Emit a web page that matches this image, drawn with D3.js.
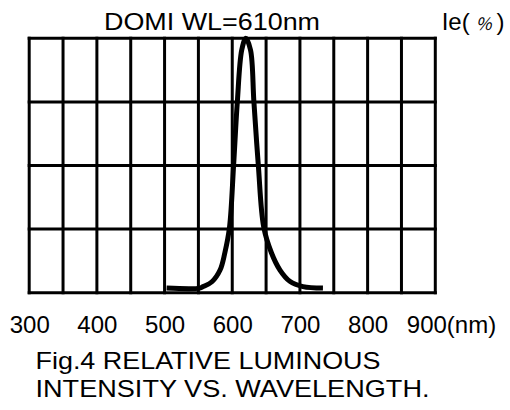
<!DOCTYPE html>
<html>
<head>
<meta charset="utf-8">
<script src="https://cdn.jsdelivr.net/npm/d3@7"></script>
<style>
  body { margin: 0; background: #fff; }
  text { font-family: "Liberation Sans", Arial, sans-serif; fill: #000; }
</style>
</head>
<body>
<div id="chart"></div>
<script>
const WIDTH = 510;
const HEIGHT = 410;

// wavelength (nm) and relative intensity (%)
const wavelengths = [503, 552, 557, 570, 582, 589, 596, 602, 607.5, 614, 620,
  627, 632, 638.5, 646.5, 658, 670.5, 685, 704.5, 734];
const intensities = [1.8, 1.8, 2.4, 4.3, 8.9, 15.6, 25.8, 50.2, 75, 95.4, 100,
  95.4, 75, 50.2, 25.8, 15.6, 8.9, 4.5, 2.4, 1.8];

const xGridValues = d3.range(300, 901, 50);
const yGridValues = [0, 25, 50, 75, 100];
const xTickValues = [300, 400, 500, 600, 700, 800, 900];

const titleText = "DOMI WL=610nm";
const captionLines = ["Fig.4 RELATIVE LUMINOUS", "INTENSITY VS. WAVELENGTH."];

const svg = d3.select("#chart")
  .append("svg")
  .attr("width", WIDTH)
  .attr("height", HEIGHT);

const x = d3.scaleLinear().domain([300, 900]).range([29.2, 435.3]);
const y = d3.scaleLinear().domain([0, 100]).range([292.7, 38.3]);

// grid
svg.append("g")
  .selectAll("line")
  .data(xGridValues)
  .enter()
  .append("line")
  .attr("x1", d => x(d))
  .attr("x2", d => x(d))
  .attr("y1", y(0) + 1.5)
  .attr("y2", y(100) - 1.5)
  .attr("stroke", "#000")
  .attr("stroke-width", 3);

svg.append("g")
  .selectAll("line")
  .data(yGridValues)
  .enter()
  .append("line")
  .attr("x1", x(300) - 1.5)
  .attr("x2", x(900) + 1.5)
  .attr("y1", d => y(d))
  .attr("y2", d => y(d))
  .attr("stroke", "#000")
  .attr("stroke-width", 3);

// curve
const line = d3.line()
  .x(i => x(wavelengths[i]))
  .y(i => y(intensities[i]))
  .curve(d3.curveCatmullRom.alpha(0.5));

svg.append("path")
  .attr("d", line(d3.range(wavelengths.length)))
  .attr("fill", "none")
  .attr("stroke", "#000")
  .attr("stroke-width", 5);

// x tick labels
const xAxis = d3.axisBottom(x)
  .tickValues(xTickValues)
  .tickSize(0)
  .tickFormat(d => d === 900 ? "900(nm)" : d);

const axisG = svg.append("g")
  .attr("transform", `translate(0,${y(0)})`)
  .call(xAxis);
axisG.select(".domain").remove();
axisG.selectAll("text")
  .attr("y", 0)
  .attr("dy", 40.6)
  .style("font-size", "24px")
  .style("font-family", "'Liberation Sans', Arial, sans-serif")
  .attr("fill", "#000");
axisG.selectAll(".tick")
  .filter(d => d === 900)
  .select("text")
  .attr("text-anchor", "start")
  .attr("dx", -29);

// title and unit
svg.append("text")
  .attr("x", 212)
  .attr("y", 30)
  .attr("text-anchor", "middle")
  .attr("textLength", 216)
  .attr("lengthAdjust", "spacingAndGlyphs")
  .style("font-size", "24px")
  .text(titleText);

const unit = svg.append("text")
  .attr("x", 441.7)
  .attr("y", 30)
  .style("font-size", "24px");
unit.append("tspan").text("Ie(");
unit.append("tspan")
  .attr("dx", 6)
  .style("font-size", "17px")
  .style("font-style", "italic")
  .style("font-family", "'Noto Sans CJK JP', sans-serif")
  .text("%");
unit.append("tspan").attr("dx", 5).text(")");

// caption
svg.append("g")
  .selectAll("text")
  .data(captionLines)
  .enter()
  .append("text")
  .attr("x", 35.5)
  .attr("y", (d, i) => 369 + i * 28)
  .attr("textLength", (d, i) => i === 0 ? 345 : 394)
  .attr("lengthAdjust", "spacingAndGlyphs")
  .style("font-size", "24px")
  .text(d => d);
</script>
</body>
</html>
